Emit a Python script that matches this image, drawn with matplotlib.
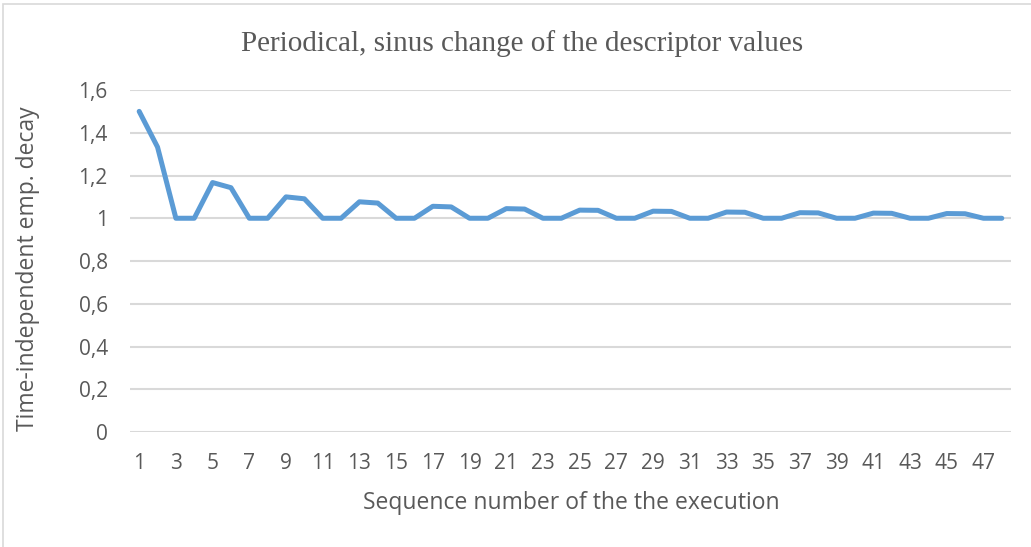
import matplotlib.pyplot as plt

# values
seq = list(range(1, 49))
decay = [1.5, 1.333, 1, 1, 1.167, 1.143, 1, 1,
         1.1, 1.091, 1, 1, 1.077, 1.071, 1, 1,
         1.056, 1.053, 1, 1, 1.045, 1.043, 1, 1,
         1.038, 1.037, 1, 1, 1.033, 1.032, 1, 1,
         1.029, 1.028, 1, 1, 1.026, 1.025, 1, 1,
         1.024, 1.023, 1, 1, 1.022, 1.021, 1, 1]
yticks = [0, 0.2, 0.4, 0.6, 0.8, 1, 1.2, 1.4, 1.6]
ylabels = ['0', '0,2', '0,4', '0,6', '0,8', '1', '1,2', '1,4', '1,6']

gray = '#595959'
sans = ['Open Sans', 'DejaVu Sans']

fig = plt.figure(figsize=(10.31, 5.47), dpi=100)
ax = fig.add_axes([130/1031, 1-432/547, (1011-130)/1031, (432-90)/547])

ax.plot(seq, decay, color='#5B9BD5', lw=3.6, solid_capstyle='round', solid_joinstyle='round', zorder=3)

ax.set_xlim(0.5, 48.5)
ax.set_ylim(0, 1.6)
ax.set_yticks(yticks)
ax.set_yticklabels(ylabels, fontfamily=sans, fontsize=15, color=gray)
ax.set_xticks(seq)
ax.set_xticklabels([str(s) if s % 2 == 1 else '' for s in seq], fontfamily=sans, fontsize=15, color=gray)
ax.tick_params(length=0)
ax.tick_params(axis='x', pad=15)
ax.tick_params(axis='y', pad=16)
ax.grid(axis='y', color='#d9d9d9', lw=1.5)
ax.set_axisbelow(True)
for s in ax.spines.values():
    s.set_visible(False)

fig.text(522/1031, 1-44/547, 'Periodical, sinus change of the descriptor values',
         family='Liberation Serif', fontsize=21, color=gray, ha='center', va='center')
fig.text(28/1031, 1-269/547, 'Time-independent emp. decay', family=sans, fontsize=16.5,
         color=gray, rotation=90, ha='center', va='center')
fig.text(571/1031, 1-503/547, 'Sequence number of the the execution', family=sans, fontsize=16.5,
         color=gray, ha='center', va='center')

fig.add_artist(plt.Rectangle((3/1031, -0.1), 1.1, 1.1-4/547, transform=fig.transFigure,
                             fill=False, ec='#d9d9d9', lw=1.2))

fig.savefig('out.png', dpi=100)
